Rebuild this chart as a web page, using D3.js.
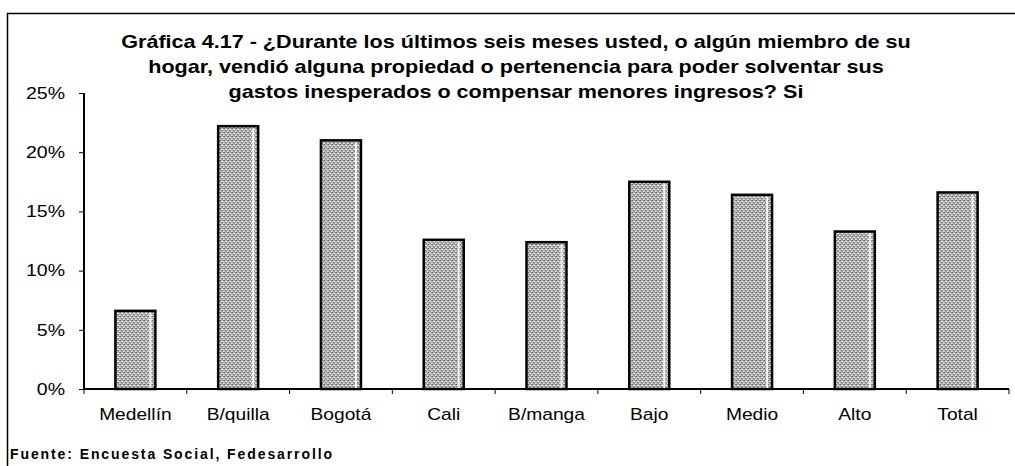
<!DOCTYPE html>
<html><head><meta charset="utf-8">
<script src="https://cdn.jsdelivr.net/npm/d3@7"></script>
<style>body{margin:0;background:#fff}svg{display:block;font-family:"Liberation Sans",Arial,sans-serif}</style>
</head><body>
<script>
const categories = ["Medellín","B/quilla","Bogotá","Cali","B/manga","Bajo","Medio","Alto","Total"];
const values = [6.6, 22.2, 21.0, 12.6, 12.4, 17.5, 16.4, 13.3, 16.6];
const yTicks = [0, 5, 10, 15, 20, 25];
const titleLines = [
  "Gráfica 4.17 - ¿Durante los últimos seis meses usted, o algún miembro de su",
  "hogar, vendió alguna propiedad o pertenencia para poder solventar sus",
  "gastos inesperados o compensar menores ingresos? Si"
];
const source = "Fuente: Encuesta Social, Fedesarrollo";

const W = 1015, H = 466;
const svg = d3.select("body").append("svg").attr("width", W).attr("height", H);

// texture pattern for bars
const defs = svg.append("defs");
const pat = defs.append("pattern").attr("id","tex").attr("patternUnits","userSpaceOnUse")
  .attr("width",4).attr("height",4);
pat.append("rect").attr("width",4).attr("height",4).attr("fill","#b0b0b0");
[[0,0,"#666"],[2,1,"#e8e8e8"],[1,2,"#777"],[3,3,"#f0f0f0"],[3,0,"#888"],[0,3,"#d4d4d4"],[2,3,"#7c7c7c"],[1,1,"#dadada"]].forEach(([x,y,c])=>
  pat.append("rect").attr("x",x).attr("y",y).attr("width",1).attr("height",1).attr("fill",c));

// frame
svg.append("line").attr("x1",7).attr("x2",W).attr("y1",13.5).attr("y2",13.5).attr("stroke","#000").attr("stroke-width",1.5);
svg.append("line").attr("x1",7.5).attr("x2",7.5).attr("y1",13).attr("y2",H).attr("stroke","#000").attr("stroke-width",1.5);

const x = d3.scaleBand().domain(categories).range([84, 1009]).paddingInner(0).paddingOuter(0);
const y = d3.scaleLinear().domain([0, 25]).range([389, 93]);

// bars
const bw = 40;
const g = svg.append("g");
categories.forEach((c,i)=>{
  const cx = x(c) + x.bandwidth()/2;
  g.append("rect").attr("x", cx - bw/2).attr("y", y(values[i])).attr("width", bw).attr("height", y(0)-y(values[i]))
    .attr("fill","url(#tex)").attr("stroke","#000").attr("stroke-width",2.5);
  g.append("line").attr("x1", cx + bw/2 - 5).attr("x2", cx + bw/2 - 5).attr("y1", y(values[i])+2).attr("y2", y(0)-1)
    .attr("stroke","#f4f4f4").attr("stroke-width",2);
});

function stretch(sel, sx){
  sel.each(function(){
    const t = d3.select(this);
    const tx = +t.attr("x") || 0, ty = +t.attr("y") || 0;
    t.attr("x",0).attr("y",0).attr("transform",`translate(${tx},${ty}) scale(${sx},1)`);
  });
}

// y axis
const yAxis = svg.append("g").attr("transform","translate(84,0)")
  .call(d3.axisLeft(y).tickValues(yTicks).tickFormat(d=>d+"%").tickSize(5).tickPadding(19));
yAxis.select(".domain").attr("stroke-width",2).attr("d","M0,93V389");
yAxis.selectAll("text").attr("font-size",16).attr("fill","#000").attr("font-family","Liberation Sans, Arial")
  .attr("dy",null).attr("dominant-baseline","central");
yAxis.selectAll("text").each(function(){
  d3.select(this).attr("transform",`translate(-19,0) scale(1.22,1)`).attr("x",0);
});

// x axis
const xb = svg.append("g").attr("transform","translate(0,389)");
xb.append("line").attr("x1",84).attr("x2",1009).attr("y1",0).attr("y2",0).attr("stroke","#000").attr("stroke-width",2);
const bounds = categories.map(c=>x(c)).concat([x(categories[categories.length-1])+x.bandwidth()]);
bounds.forEach(b=> xb.append("line").attr("x1",b).attr("x2",b).attr("y1",0).attr("y2",5).attr("stroke","#000").attr("stroke-width",1));
const xl = xb.selectAll("text.xl").data(categories).join("text").attr("class","xl")
  .attr("x", c=> x(c)+x.bandwidth()/2).attr("y", 31)
  .attr("text-anchor","middle").attr("font-size",16).text(c=>c);
stretch(xl, 1.2);

// title
const tl = svg.selectAll("text.tt").data(titleLines).join("text").attr("class","tt")
  .attr("x",516).attr("y",(d,i)=>48+i*25).attr("text-anchor","middle")
  .attr("font-size",18).attr("font-weight","bold").text(d=>d);
stretch(tl, 1.2);

// source
svg.append("text").attr("x",10).attr("y",459).attr("font-size",14).attr("font-weight","bold")
  .attr("letter-spacing",1.9).text(source);
</script>
</body></html>
